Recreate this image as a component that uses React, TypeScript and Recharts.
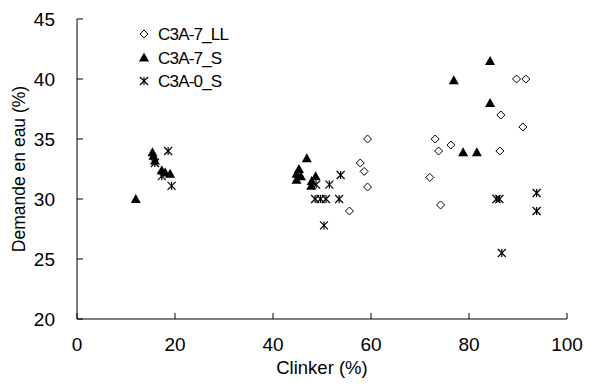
import * as React from "react"
import { ScatterChart, Scatter, XAxis, YAxis } from "recharts"

// Clinker (%) vs water demand (%) for three cement series
const llClinker = [55.6, 57.8, 58.6, 59.3, 59.3, 72.0, 73.1, 73.8, 74.2, 76.3, 86.3, 86.5, 89.7, 91.0, 91.6]
const llWater = [29.0, 33.0, 32.3, 31.0, 35.0, 31.8, 35.0, 34.0, 29.5, 34.5, 34.0, 37.0, 40.0, 36.0, 40.0]

const s7Clinker = [12, 15.4, 15.6, 15.9, 17.3, 18, 19, 44.8, 44.8, 45.3, 45.7, 46.9, 47.8, 47.9, 48.7, 76.9, 78.8, 81.6, 84.3, 84.3]
const s7Water = [30, 33.9, 33.6, 33.2, 32.4, 32.2, 32.1, 32.1, 31.6, 32.5, 31.9, 33.4, 31.1, 31.5, 31.9, 39.9, 33.9, 33.9, 38.0, 41.5]

const s0Clinker = [15.9, 17.3, 18.6, 19.3, 48.6, 48.8, 49.7, 50.4, 50.8, 51.5, 53.5, 53.8, 85.6, 86.2, 86.7, 93.8, 93.8]
const s0Water = [33.0, 31.9, 34.0, 31.1, 30.0, 31.2, 30.0, 27.8, 30.0, 31.2, 30.0, 32.0, 30.0, 30.0, 25.5, 30.5, 29.0]

const xTicks = [0, 20, 40, 60, 80, 100]
const yTicks = [20, 25, 30, 35, 40, 45]

const toPoints = (xs: number[], ys: number[]) => xs.map((x, i) => ({ x, y: ys[i] }))

const FONT = "'Liberation Sans', Arial, sans-serif"

function Diamond({ cx, cy }: any) {
  const r = 4
  return (
    <polygon
      points={`${cx},${cy - r} ${cx + r},${cy} ${cx},${cy + r} ${cx - r},${cy}`}
      fill="#fff"
      stroke="#000"
      strokeWidth={1}
    />
  )
}

function Triangle({ cx, cy }: any) {
  return (
    <polygon
      points={`${cx},${cy - 5} ${cx + 5},${cy + 4} ${cx - 5},${cy + 4}`}
      fill="#000"
    />
  )
}

function Star({ cx, cy }: any) {
  const r = 4
  return (
    <g stroke="#000" strokeWidth={1.2}>
      <line x1={cx - r} y1={cy - r} x2={cx + r} y2={cy + r} />
      <line x1={cx - r} y1={cy + r} x2={cx + r} y2={cy - r} />
      <line x1={cx} y1={cy - r} x2={cx} y2={cy + r} />
    </g>
  )
}

const legendItems = [
  { name: "C3A-7_LL", Shape: Diamond },
  { name: "C3A-7_S", Shape: Triangle },
  { name: "C3A-0_S", Shape: Star },
]

function LegendBox() {
  return (
    <svg
      width={130}
      height={76}
      style={{ position: "absolute", left: 138, top: 24, overflow: "visible" }}
    >
      {legendItems.map((it, i) => (
        <g key={it.name}>
          <it.Shape cx={6} cy={10 + i * 23.5} />
          <text
            x={20}
            y={10 + i * 23.5}
            dy="0.36em"
            fontSize={17}
            letterSpacing={-0.8}
            fontFamily={FONT}
            fill="#000"
          >
            {it.name}
          </text>
        </g>
      ))}
    </svg>
  )
}

function YLabel({ viewBox }: any) {
  const cx = 19
  const cy = viewBox.y + viewBox.height / 2
  return (
    <text
      x={cx}
      y={cy}
      transform={`rotate(-90, ${cx}, ${cy})`}
      textAnchor="middle"
      dominantBaseline="central"
      fontSize={17.5}
      fontFamily={FONT}
      fill="#000"
    >
      Demande en eau (%)
    </text>
  )
}

export default function App() {
  const tickStyle = { fontSize: 19, fontFamily: FONT, fill: "#000" }
  return (
    <div style={{ position: "absolute", left: 0, top: 0, width: 594, height: 388, background: "#fff" }}>
      <ScatterChart width={594} height={388} margin={{ top: 19, right: 27, bottom: 19, left: 0 }}>
        <XAxis
          type="number"
          dataKey="x"
          domain={[0, 100]}
          ticks={xTicks}
          height={50}
          axisLine={{ stroke: "#000" }}
          tickLine={{ stroke: "#000" }}
          tickSize={-6}
          tickMargin={25}
          tick={tickStyle}
          label={{ value: "Clinker (%)", position: "bottom", offset: -8, style: { fontSize: 18.5, fontFamily: FONT, fill: "#000" } }}
        />
        <YAxis
          type="number"
          dataKey="y"
          domain={[20, 45]}
          ticks={yTicks}
          width={77}
          axisLine={{ stroke: "#000" }}
          tickLine={{ stroke: "#000" }}
          tickSize={-6}
          tickMargin={28}
          tick={tickStyle}
          label={<YLabel />}
        />
        <Scatter name="C3A-7_LL" data={toPoints(llClinker, llWater)} shape={<Diamond />} isAnimationActive={false} />
        <Scatter name="C3A-7_S" data={toPoints(s7Clinker, s7Water)} shape={<Triangle />} isAnimationActive={false} />
        <Scatter name="C3A-0_S" data={toPoints(s0Clinker, s0Water)} shape={<Star />} isAnimationActive={false} />
      </ScatterChart>
      <LegendBox />
    </div>
  )
}
